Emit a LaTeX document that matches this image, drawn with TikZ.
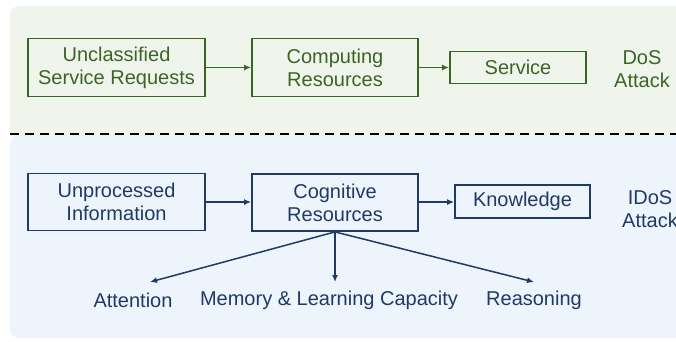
\documentclass[tikz,border=0pt]{standalone}
\usepackage{fontspec}
\setmainfont{Liberation Sans}
\usetikzlibrary{arrows.meta}
\definecolor{gdark}{HTML}{3B6527}
\definecolor{gbg}{HTML}{F0F5EB}
\definecolor{bdark}{HTML}{203A66}
\definecolor{bbg}{HTML}{EDF4FC}
\tikzset{
  box/.style={draw, line width=1.8pt, inner sep=0pt, align=center, font=\fontsize{20}{23}\selectfont},
  gbox/.style={box, draw=gdark, text=gdark},
  bbox/.style={box, draw=bdark, text=bdark},
  lbl/.style={inner sep=0pt, align=center, font=\fontsize{20}{23}\selectfont},
  garr/.style={draw=gdark, line width=1.8pt, -{Latex[length=7pt,width=6pt]}},
  barr/.style={draw=bdark, line width=1.8pt, -{Latex[length=7pt,width=6pt]}},
}
\begin{document}
\begin{tikzpicture}[x=1pt,y=-1pt]
\useasboundingbox (0,0) rectangle (676,341);
\clip (0,0) rectangle (676,341);
\fill[gbg, rounded corners=9pt] (10,6) rectangle (700,140);
\fill[bbg, rounded corners=9pt] (10,136) rectangle (700,338);
\draw[black, line width=2pt, dash pattern=on 9pt off 6pt] (10,134) -- (676,134);

\node[gbox, minimum width=177pt, minimum height=58pt] (A) at (116.5,67.5) {Unclassified\\Service Requests};
\node[gbox, minimum width=166pt, minimum height=58pt] (B) at (335,67.5) {Computing\\Resources};
\node[gbox, minimum width=136pt, minimum height=32pt] (C) at (518,67.5) {Service};
\node[lbl, text=gdark] (dos) at (642,69) {DoS\\Attack};
\draw[garr] (A) -- (B);
\draw[garr] (B) -- (C);

\node[bbox, minimum width=177pt, minimum height=57pt] (D) at (116.5,202) {Unprocessed\\Information};
\node[bbox, minimum width=166pt, minimum height=57pt] (E) at (335,202.5) {Cognitive\\Resources};
\node[bbox, minimum width=135pt, minimum height=33pt] (F) at (522.5,201.5) {Knowledge};
\node[lbl, text=bdark] (idos) at (650,209) {IDoS\\Attack};
\draw[barr] (D.east |- 0,202) -- (E.west |- 0,202);
\draw[barr] (E.east |- 0,202) -- (F.west |- 0,202);

\node[lbl, text=bdark] (att) at (133,300) {Attention};
\node[lbl, text=bdark] (mem) at (329,300) {Memory \& Learning Capacity};
\node[lbl, text=bdark] (rea) at (534,300) {Reasoning};
\coordinate (ta) at (150,282);
\coordinate (tm) at (335,282);
\coordinate (tr) at (534,282);
\draw[barr, line width=1.5pt] (E.south) -- (ta);
\draw[barr, line width=1.5pt] (E.south) -- (tm);
\draw[barr, line width=1.5pt] (E.south) -- (tr);
\end{tikzpicture}
\end{document}
